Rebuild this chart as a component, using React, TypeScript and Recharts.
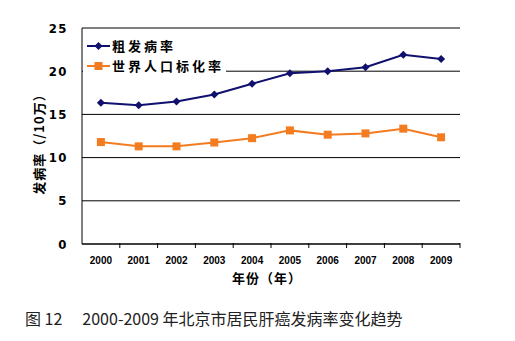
import { CartesianGrid, Line, LineChart, XAxis, YAxis } from "recharts";

const years = ["2000", "2001", "2002", "2003", "2004", "2005", "2006", "2007", "2008", "2009"];
const crudeRate = [16.35, 16.05, 16.5, 17.3, 18.55, 19.75, 20.0, 20.45, 21.9, 21.4];
const worldStdRate = [11.8, 11.3, 11.3, 11.75, 12.25, 13.15, 12.65, 12.8, 13.35, 12.35];
const yTicks = [0, 5, 10, 15, 20, 25];

const data = years.map((y, i) => ({ year: y, crude: crudeRate[i], std: worldStdRate[i] }));

const BLUE = "#10106e";
const ORANGE = "#f47c20";
const CJK = '"Noto Sans CJK SC", sans-serif';
const BAND = 378 / years.length;

const XTick = (props: any) => {
   const { x, y, payload } = props;
   return (
      <g>
         <line x1={x + BAND / 2} x2={x + BAND / 2} y1={y - 4} y2={y - 9} stroke="#000" />
         <text x={x} y={y + 12} textAnchor="middle" fontSize={10} fontWeight="bold"
            fontFamily='"Liberation Sans", Arial, sans-serif' fill="#000">
            {payload.value}
         </text>
      </g>
   );
};

const Diamond = (props: any) => {
   const { cx, cy } = props;
   if (cx == null || cy == null) return null;
   return <path d={`M${cx},${cy - 4}L${cx + 4},${cy}L${cx},${cy + 4}L${cx - 4},${cy}Z`} fill={BLUE} />;
};

const Square = (props: any) => {
   const { cx, cy } = props;
   if (cx == null || cy == null) return null;
   return <rect x={cx - 4} y={cy - 4} width={8} height={8} fill={ORANGE} />;
};

const LegendBox = () => (
   <div style={{ position: "absolute", left: 83, top: 34, background: "#fff", width: 140, padding: "2px 0 4px 3px", fontFamily: CJK, fontWeight: "bold", fontSize: 13, letterSpacing: 3, lineHeight: "20px" }}>
      <div style={{ display: "flex", alignItems: "center", height: 20 }}>
         <svg width={26} height={12}>
            <line x1={1} x2={24} y1={6} y2={6} stroke={BLUE} strokeWidth={2} />
            <path d="M12.5,2L16.5,6L12.5,10L8.5,6Z" fill={BLUE} />
         </svg>
         <span>粗发病率</span>
      </div>
      <div style={{ display: "flex", alignItems: "center", height: 20 }}>
         <svg width={26} height={12}>
            <line x1={1} x2={24} y1={6} y2={6} stroke={ORANGE} strokeWidth={2} />
            <rect x={8.5} y={2} width={8} height={8} fill={ORANGE} />
         </svg>
         <span style={{ whiteSpace: "nowrap" }}>世界人口标化率</span>
      </div>
   </div>
);

export default function App() {
   return (
      <div style={{ position: "relative", width: 515, height: 341, margin: -8, background: "#fff" }}>
         <LineChart width={515} height={290} data={data} margin={{ top: 28, right: 55, left: 42, bottom: 16 }}>
            <CartesianGrid vertical={false} stroke="#000" strokeWidth={1} />
            <XAxis dataKey="year" height={30} stroke="#000" tickLine={false} tick={<XTick />} interval={0}
               padding={{ left: BAND / 2, right: BAND / 2 }} />
            <YAxis domain={[0, 25]} ticks={yTicks} width={40} stroke="#000" tickLine={false} tickSize={0}
               tickMargin={14}
               tick={{ fill: "#000", fontSize: 13, fontWeight: "bold", fontFamily: '"Liberation Sans Narrow", "DejaVu Sans Condensed", sans-serif', letterSpacing: 1.5 }} />
            <Line dataKey="crude" stroke={BLUE} strokeWidth={2} dot={<Diamond />} isAnimationActive={false} />
            <Line dataKey="std" stroke={ORANGE} strokeWidth={2} dot={<Square />} isAnimationActive={false} />
         </LineChart>
         <LegendBox />
         <div style={{ position: "absolute", left: 38, top: 141, transform: "translate(-50%, -50%) rotate(-90deg)", whiteSpace: "nowrap", fontFamily: CJK, fontWeight: "bold", fontSize: 13, letterSpacing: 1 }}>
            发病率（/10万）
         </div>
         <div style={{ position: "absolute", left: 267, top: 277, transform: "translate(-50%, -50%)", whiteSpace: "nowrap", fontFamily: CJK, fontWeight: "bold", fontSize: 13, letterSpacing: 1 }}>
            年份（年）
         </div>
         <div style={{ position: "absolute", left: 25, top: 318, transform: "translateY(-50%)", whiteSpace: "nowrap", fontFamily: CJK, fontSize: 16, color: "#222" }}>
            <span>图 12</span>
            <span style={{ marginLeft: 20 }}>2000-2009 年北京市居民肝癌发病率变化趋势</span>
         </div>
      </div>
   );
}
